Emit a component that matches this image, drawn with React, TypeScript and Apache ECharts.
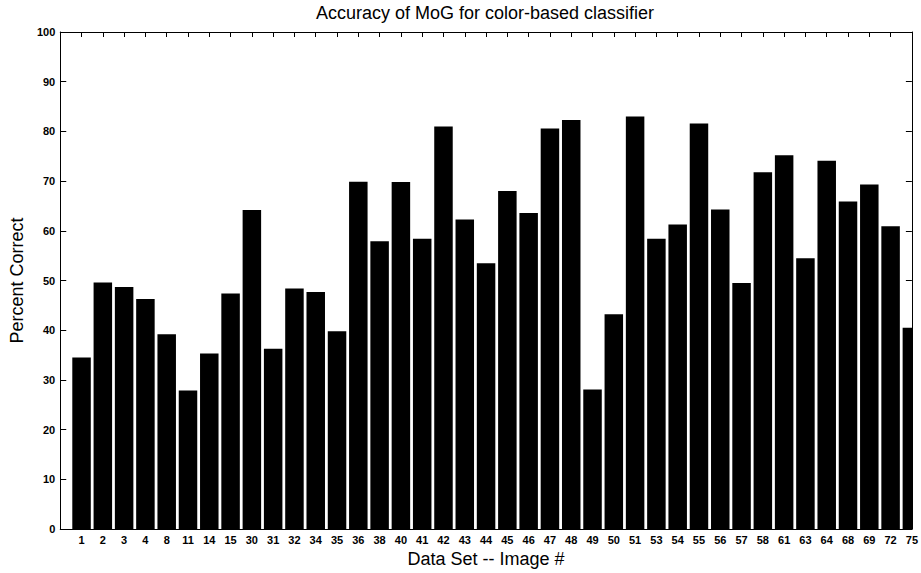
import React, { useEffect, useRef } from "react";
import * as echarts from "echarts";

const categories = ["1","2","3","4","8","11","14","15","30","31","32","34","35","36","38","40","41","42","43","44","45","46","47","48","49","50","51","53","54","55","56","57","58","61","63","64","68","69","72","75"];
const values = [34.5,49.6,48.7,46.3,39.2,27.9,35.3,47.4,64.2,36.3,48.4,47.7,39.8,69.9,57.9,69.8,58.4,81.0,62.3,53.5,68.0,63.6,80.6,82.3,28.1,43.2,83.0,58.4,61.3,81.6,64.3,49.5,71.8,75.2,54.5,74.1,65.9,69.3,60.9,40.5];
const yMin = 0;
const yMax = 100;
const yStep = 10;

const FONT = "'Liberation Sans', Arial, Helvetica, sans-serif";

export default function App() {
  const ref = useRef<HTMLDivElement>(null);
  useEffect(() => {
    document.body.style.margin = "0";
    if (!ref.current) return;
    const chart = echarts.init(ref.current, null, { renderer: "svg" });
    const axisLine = { show: true, onZero: false, lineStyle: { color: "#000", width: 1 } };
    chart.setOption({
      animation: false,
      backgroundColor: "#fff",
      title: {
        text: "Accuracy of MoG for color-based classifier",
        left: 485,
        top: 4,
        textAlign: "center",
        padding: 0,
        textStyle: { fontFamily: FONT, fontSize: 18, fontWeight: "normal", color: "#000" },
      },
      grid: { left: 57, right: 9, top: 32, bottom: 39, containLabel: false },
      graphic: [
        {
          type: "rect",
          z: 5,
          shape: { x: 913, y: 0, width: 10, height: 533.5 },
          style: { fill: "#fff" },
        },
      ],
      xAxis: [
        {
          type: "value",
          min: 0,
          max: categories.length,
          interval: 1,
          position: "bottom",
          axisLine,
          axisTick: { show: false },
          splitLine: { show: false },
          axisLabel: {
            show: true,
            margin: 5,
            fontFamily: FONT,
            fontSize: 11,
            fontWeight: "bold",
            color: "#000",
            formatter: (v: number) => categories[Math.round(v) - 1] ?? "",
          },
          name: "Data Set -- Image #",
          nameLocation: "middle",
          nameGap: 16,
          nameTextStyle: { fontFamily: FONT, fontSize: 18, color: "#000" },
        },
        {
          type: "value",
          min: 0,
          max: categories.length,
          interval: 1,
          position: "top",
          axisLine,
          axisTick: { show: true, inside: true, length: 5, lineStyle: { color: "#000" } },
          splitLine: { show: false },
          axisLabel: { show: false },
        },
      ],
      yAxis: [
        {
          type: "value",
          min: yMin,
          max: yMax,
          interval: yStep,
          position: "left",
          axisLine,
          axisTick: { show: true, inside: true, length: 6, lineStyle: { color: "#000" } },
          splitLine: { show: false },
          axisLabel: {
            margin: 5,
            fontFamily: FONT,
            fontSize: 11,
            fontWeight: "bold",
            color: "#000",
          },
          name: "Percent Correct",
          nameLocation: "middle",
          nameGap: 28,
          nameTextStyle: { fontFamily: FONT, fontSize: 18, color: "#000" },
        },
        {
          type: "value",
          min: yMin,
          max: yMax,
          interval: yStep,
          position: "right",
          axisLine,
          axisTick: { show: true, inside: true, length: 6, lineStyle: { color: "#000" } },
          splitLine: { show: false },
          axisLabel: { show: false },
        },
      ],
      series: [
        {
          type: "bar",
          xAxisIndex: 0,
          yAxisIndex: 0,
          barWidth: 18.5,
          clip: true,
          itemStyle: { color: "#000" },
          data: categories.map((c, i) => [i + 1, values[i]]),
        },
      ],
    });
    return () => chart.dispose();
  }, []);
  return <div ref={ref} style={{ width: 921, height: 573 }} />;
}
